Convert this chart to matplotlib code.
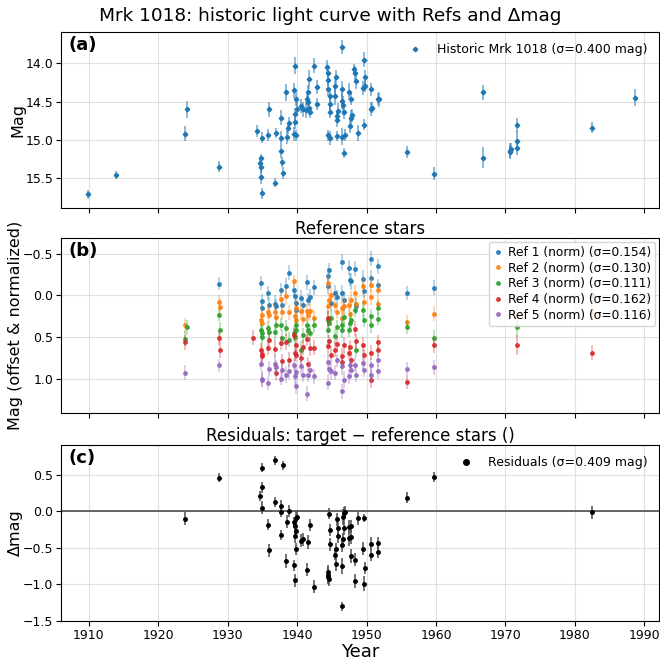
import numpy as np
import matplotlib
matplotlib.use("Agg")
import matplotlib.pyplot as plt

# historic target photometry (year, mag, err)
years = [1909.9, 1913.9, 1923.8, 1924.2, 1928.8, 1934.2, 1934.9, 1934.8, 1934.7, 1934.8,
         1934.8, 1934.9, 1935.8, 1935.9, 1936.9, 1936.8, 1937.7, 1937.7, 1937.7, 1937.8,
         1937.9, 1938.4, 1938.5, 1938.7, 1938.8, 1939.5, 1939.7, 1939.6, 1939.7, 1939.7,
         1939.8, 1940.0, 1939.8, 1940.6, 1940.8, 1941.3, 1941.4, 1941.5, 1941.7, 1941.5,
         1941.7, 1941.9, 1942.5, 1942.9, 1942.9, 1944.3, 1944.5, 1944.5, 1944.5, 1944.8,
         1944.8, 1944.8, 1944.5, 1944.7, 1945.6, 1945.5, 1945.4, 1945.7, 1945.8, 1945.7,
         1945.9, 1946.5, 1946.5, 1946.4, 1946.6, 1946.7, 1946.5, 1946.9, 1946.8, 1947.5,
         1947.7, 1947.6, 1947.7, 1947.9, 1948.2, 1948.4, 1948.5, 1948.7, 1949.6, 1949.5,
         1949.8, 1949.8, 1949.6, 1950.6, 1950.6, 1950.8, 1951.6, 1951.8, 1955.8, 1959.7,
         1966.8, 1966.8, 1970.6, 1970.7, 1970.8, 1971.6, 1971.6, 1971.6, 1982.5, 1988.6]
mags = [15.71, 15.46, 14.92, 14.60, 15.35, 14.88, 14.97, 15.24, 15.30, 15.36,
        15.48, 15.70, 14.94, 14.60, 14.91, 15.56, 14.71, 14.98, 15.15, 15.29,
        15.43, 14.38, 14.96, 14.85, 14.78, 14.35, 14.03, 14.92, 14.66, 14.76,
        14.47, 14.59, 14.94, 14.56, 14.60, 14.61, 14.47, 14.37, 14.21, 14.50,
        14.58, 14.64, 14.03, 14.31, 14.53, 14.05, 14.12, 14.22, 14.33, 14.43,
        14.53, 14.64, 14.94, 14.98, 14.18, 14.30, 14.43, 14.69, 14.74, 14.95,
        14.62, 13.79, 14.34, 14.49, 14.55, 14.64, 14.96, 14.94, 15.17, 14.37,
        14.47, 14.82, 14.71, 14.68, 14.08, 14.13, 14.23, 14.91, 13.95, 14.32,
        14.18, 14.29, 14.80, 14.34, 14.60, 14.58, 14.47, 14.47, 15.16, 15.44,
        14.38, 15.23, 15.16, 15.14, 15.12, 14.81, 15.01, 15.11, 14.84, 14.45]
mag_err = [0.06, 0.05, 0.10, 0.11, 0.07, 0.08, 0.07, 0.06, 0.08, 0.07,
           0.09, 0.07, 0.08, 0.10, 0.07, 0.06, 0.10, 0.09, 0.08, 0.07,
           0.08, 0.11, 0.09, 0.07, 0.08, 0.10, 0.11, 0.09, 0.08, 0.10,
           0.09, 0.08, 0.07, 0.09, 0.10, 0.11, 0.07, 0.09, 0.12, 0.08,
           0.10, 0.07, 0.10, 0.09, 0.08, 0.10, 0.09, 0.08, 0.10, 0.11,
           0.09, 0.08, 0.07, 0.09, 0.09, 0.10, 0.11, 0.08, 0.09, 0.07,
           0.10, 0.09, 0.11, 0.10, 0.12, 0.09, 0.11, 0.08, 0.07, 0.11,
           0.08, 0.09, 0.10, 0.08, 0.07, 0.09, 0.10, 0.10, 0.10, 0.09,
           0.09, 0.08, 0.07, 0.08, 0.09, 0.07, 0.08, 0.10, 0.08, 0.08,
           0.10, 0.14, 0.09, 0.10, 0.08, 0.09, 0.12, 0.09, 0.07, 0.11]

# reference stars (offset & normalized)
ref_years = [1923.8, 1924.2, 1928.8, 1928.9, 1933.6, 1934.8, 1934.9, 1935.0, 1935.8, 1935.9,
             1936.8, 1936.9, 1937.7, 1937.8, 1938.4, 1938.8, 1939.6, 1939.7, 1939.8, 1939.9,
             1940.6, 1940.8, 1941.4, 1941.5, 1941.9, 1942.5, 1944.4, 1944.5, 1944.6, 1944.9,
             1945.5, 1945.7, 1946.4, 1946.5, 1946.7, 1947.5, 1947.6, 1947.8, 1948.4, 1948.5,
             1949.5, 1949.7, 1950.6, 1950.7, 1951.6, 1951.7, 1955.8, 1959.7, 1971.6, 1982.5]
nan = np.nan
ref1 = [nan, nan, -0.14, nan, nan, -0.15, 0.07, 0.15, -0.03, 0.11,
        0.10, 0.13, -0.07, 0.11, -0.11, -0.27, -0.07, 0.01, 0.09, 0.17,
        0.03, 0.12, -0.16, 0.05, 0.02, -0.10, -0.23, -0.11, -0.31, 0.09,
        -0.03, 0.02, -0.40, -0.03, 0.05, -0.33, -0.19, -0.17, -0.32, 0.13,
        -0.20, -0.05, -0.44, -0.21, -0.35, -0.12, -0.03, -0.09, 0.05, 0.00]
ref2 = [0.36, nan, 0.08, 0.14, nan, 0.29, 0.24, 0.33, 0.20, 0.24,
        0.20, 0.26, 0.04, 0.20, 0.01, 0.20, -0.17, 0.25, 0.15, 0.30,
        0.19, 0.28, 0.19, 0.24, 0.19, 0.27, -0.15, 0.13, 0.05, -0.01,
        0.11, 0.20, 0.27, 0.15, 0.13, 0.11, 0.22, 0.05, -0.03, 0.10,
        -0.11, 0.08, -0.13, 0.02, -0.07, 0.10, 0.32, 0.22, 0.25, 0.20]
ref3 = [0.52, 0.38, 0.23, 0.42, nan, 0.42, 0.50, 0.45, 0.39, 0.44,
        0.44, 0.35, 0.35, 0.51, 0.39, 0.53, 0.45, 0.50, 0.36, 0.41,
        0.65, 0.48, 0.36, 0.42, 0.45, 0.36, 0.29, 0.42, 0.33, 0.27,
        0.49, 0.38, 0.41, 0.36, 0.26, 0.41, 0.33, 0.30, 0.17, 0.65,
        0.17, 0.30, 0.25, 0.35, 0.15, 0.28, 0.38, 0.51, 0.38, nan]
ref4 = [0.56, nan, 0.51, 0.65, 0.51, 0.65, 0.73, 0.70, 0.63, 0.54,
        0.64, 0.93, 0.57, 0.79, 0.56, 0.77, 0.47, 0.69, 0.60, 0.72,
        0.75, 0.62, 0.52, 0.82, 0.63, 0.63, 0.27, 0.61, 0.55, 0.71,
        0.65, 0.58, 0.73, 0.80, 0.60, 0.69, 0.62, 0.77, 0.40, 0.55,
        0.60, 0.72, 0.69, 1.01, 0.56, 0.66, 1.04, 0.60, 0.59, 0.69]
ref5 = [0.93, nan, 0.84, nan, nan, 0.82, 1.01, 1.00, 1.05, 0.88,
        0.82, 0.86, 1.00, 0.90, 0.95, 0.91, 0.83, 0.97, 1.09, 0.92,
        0.85, 0.95, 1.18, 0.96, 0.89, 0.97, 0.80, 1.05, 0.88, 0.91,
        0.93, 0.78, 0.85, 1.15, 1.01, 0.97, 0.84, 0.89, 0.83, 0.95,
        0.81, 0.90, 0.83, 0.95, 0.91, 0.78, 0.88, 0.86, nan, nan]
ref_err = [0.09, 0.09, 0.08, 0.10, 0.09, 0.08, 0.09, 0.10, 0.08, 0.09,
           0.10, 0.09, 0.08, 0.09, 0.10, 0.09, 0.08, 0.10, 0.09, 0.08,
           0.10, 0.09, 0.09, 0.08, 0.10, 0.09, 0.10, 0.09, 0.08, 0.10,
           0.09, 0.08, 0.10, 0.09, 0.10, 0.09, 0.08, 0.10, 0.09, 0.09,
           0.10, 0.08, 0.09, 0.10, 0.09, 0.08, 0.08, 0.09, 0.12, 0.09]
refs = [ref1, ref2, ref3, ref4, ref5]
ref_sig = [0.154, 0.130, 0.111, 0.162, 0.116]

# residuals target - refs
res_years = [1923.8, 1928.8, 1934.9, 1934.9, 1934.7, 1934.9, 1935.8, 1935.9, 1936.8, 1937.9,
             1936.8, 1937.7, 1937.7, 1937.7, 1938.4, 1938.5, 1938.8, 1939.5, 1939.7, 1939.6,
             1939.8, 1940.0, 1939.7, 1939.9, 1939.7, 1939.9, 1940.6, 1940.8, 1941.4, 1941.6,
             1941.9, 1942.5, 1944.4, 1944.5, 1944.6, 1944.5, 1944.6, 1944.8, 1944.8, 1945.5,
             1945.6, 1945.6, 1945.7, 1945.9, 1945.9, 1946.4, 1946.5, 1946.6, 1946.7, 1946.6,
             1946.5, 1946.7, 1946.9, 1947.5, 1947.8, 1947.5, 1947.7, 1947.7, 1948.4, 1948.3,
             1948.7, 1949.6, 1949.5, 1949.8, 1949.7, 1950.6, 1950.6, 1951.6, 1951.7, 1955.8,
             1959.7, 1982.5]
res = [-0.10, 0.46, 0.60, 0.33, 0.21, 0.05, -0.18, -0.53, 0.70, 0.63,
       0.13, 0.07, -0.01, -0.32, -0.68, -0.14, 0.01, -0.74, -0.94, -0.15,
       -0.09, -0.07, -0.20, -0.27, -0.34, -0.51, -0.40, -0.38, -0.80, -0.42,
       -0.19, -1.03, -0.83, -0.87, -0.93, -0.90, -0.03, -0.25, -0.45, -0.59,
       -0.72, -0.51, -0.11, -0.23, -0.34, -0.75, -1.30, -0.07, -0.22, -0.38,
       -0.46, -0.02, -0.01, -0.21, -0.20, -0.37, -0.35, -0.61, -0.66, -0.95,
       -0.09, -0.09, -0.51, -0.77, -0.99, -0.44, -0.60, -0.55, -0.43, 0.19,
       0.47, -0.01]
res_err = [0.09, 0.06, 0.06, 0.08, 0.07, 0.09, 0.08, 0.09, 0.06, 0.06,
           0.07, 0.08, 0.07, 0.07, 0.10, 0.09, 0.08, 0.08, 0.09, 0.08,
           0.09, 0.07, 0.08, 0.10, 0.09, 0.08, 0.09, 0.09, 0.09, 0.10,
           0.08, 0.09, 0.10, 0.11, 0.09, 0.10, 0.08, 0.08, 0.09, 0.08,
           0.10, 0.08, 0.09, 0.10, 0.09, 0.11, 0.06, 0.11, 0.10, 0.09,
           0.09, 0.08, 0.08, 0.09, 0.08, 0.10, 0.09, 0.09, 0.09, 0.10,
           0.09, 0.06, 0.09, 0.08, 0.10, 0.09, 0.08, 0.09, 0.08, 0.07,
           0.07, 0.09]

fig = plt.figure(figsize=(6.6, 6.61), dpi=100)
ax1 = fig.add_axes([0.0924, 0.6853, 0.906, 0.2663])
ax2 = fig.add_axes([0.0924, 0.3752, 0.906, 0.2648], sharex=ax1)
ax3 = fig.add_axes([0.0924, 0.0605, 0.906, 0.2663], sharex=ax1)

fig.suptitle("Mrk 1018: historic light curve with Refs and \u0394mag", fontsize=13.3, y=0.99)

# (a)
ax1.errorbar(years, mags, yerr=mag_err, fmt="none",
             ecolor=(0.12, 0.47, 0.71, 0.65), elinewidth=1.1)
ax1.plot(years, mags, "D", ms=2.3, color="tab:blue",
         label="Historic Mrk 1018 (\u03c3=0.400 mag)")
ax1.set_ylim(15.89, 13.59)
ax1.set_yticks([14.0, 14.5, 15.0, 15.5])
ax1.set_ylabel("Mag", fontsize=11.5, labelpad=0)
ax1.legend(loc="upper right", frameon=False, fontsize=9)
ax1.text(0.012, 0.975, "(a)", transform=ax1.transAxes, fontsize=13,
         fontweight="bold", va="top")

# (b)
colors = ["tab:blue", "tab:orange", "tab:green", "tab:red", "tab:purple"]
for i, r in enumerate(refs):
    ax2.errorbar(ref_years, r, yerr=ref_err, fmt="none", ecolor=colors[i],
                 alpha=0.4, elinewidth=1.1)
    ax2.plot(ref_years, r, "o", ms=2.5, color=colors[i], alpha=0.85,
             label="Ref %d (norm) (\u03c3=%.3f)" % (i + 1, ref_sig[i]))
ax2.set_ylim(1.41, -0.69)
ax2.set_yticks([-0.5, 0.0, 0.5, 1.0])
ax2.set_ylabel("Mag (offset & normalized)", fontsize=11.5, labelpad=0)
ax2.set_title("Reference stars", fontsize=12, pad=3)
ax2.legend(loc="upper right", fontsize=8.8, handletextpad=0.4,
           borderpad=0.35, labelspacing=0.22, handlelength=0.8,
           borderaxespad=0.3)
ax2.text(0.012, 0.975, "(b)", transform=ax2.transAxes, fontsize=13,
         fontweight="bold", va="top")

# (c)
ax3.axhline(0, color="0.3", lw=1.2)
ax3.errorbar(res_years, res, yerr=res_err, fmt="none", ecolor="0.3",
             elinewidth=1.1)
ax3.plot(res_years, res, "o", ms=2.5, color="black",
         label="Residuals (\u03c3=0.409 mag)")
ax3.set_ylim(-1.5, 0.91)
ax3.set_yticks([-1.5, -1.0, -0.5, 0.0, 0.5])
ax3.set_ylabel("\u0394mag", fontsize=11.5, labelpad=0)
ax3.set_xlabel("Year", fontsize=13, labelpad=1)
ax3.set_title("Residuals: target \u2212 reference stars ()", fontsize=12, pad=3)
ax3.legend(loc="upper right", frameon=False, fontsize=9, markerscale=1.6)
ax3.text(0.012, 0.975, "(c)", transform=ax3.transAxes, fontsize=13,
         fontweight="bold", va="top")

ax1.set_xlim(1906.0, 1992.1)
ax1.set_xticks(range(1910, 1991, 10))
for ax in (ax1, ax2, ax3):
    ax.grid(True, color="0.85", lw=0.8, alpha=0.8)
    ax.tick_params(labelsize=9, pad=2)
plt.setp(ax1.get_xticklabels(), visible=False)
plt.setp(ax2.get_xticklabels(), visible=False)

fig.savefig("out.png", dpi=100)
